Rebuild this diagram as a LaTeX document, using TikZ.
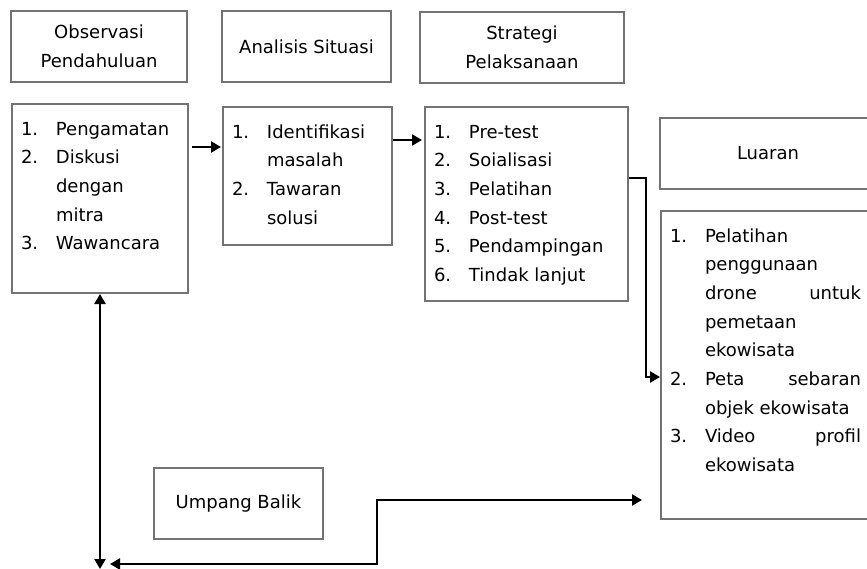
\documentclass[tikz,border=0pt]{standalone}
\usepackage{fontspec}
\setmainfont{DejaVu Sans}
\usetikzlibrary{arrows.meta,calc}

\newcommand{\boxlist}[3]{\parbox[t][#1][t]{#2}{\begin{tabular}[t]{@{}p{35pt}@{}p{\dimexpr#2-35pt\relax}@{}}#3\end{tabular}}}

\begin{document}
\begin{tikzpicture}[x=1pt,y=-1pt,
    font=\fontsize{18}{28.7}\selectfont,
    every node/.style={draw=black!55,line width=2pt,rectangle,inner sep=0pt},
    head/.style={align=center,minimum height=71pt},
    list/.style={anchor=north west,inner xsep=9pt,inner ysep=11pt},
    arr/.style={-{Triangle[length=10pt,width=11pt]},line width=2.4pt},
    arrboth/.style={{Triangle[length=10pt,width=11pt]}-{Triangle[length=10pt,width=11pt]},line width=2.4pt}]

    \useasboundingbox (0,0) rectangle (867,569);

    % Headers
    \node[head,minimum width=176pt] (obshead) at (99,46.5) {Observasi\\Pendahuluan};
    \node[head,minimum width=169pt] (anhead) at (306.5,46.5) {Analisis Situasi};
    \node[head,minimum width=204pt] (sthead) at (522,47.5) {Strategi\\Pelaksanaan};
    \node[head,minimum width=216pt] (luhead) at (768,153.5) {Luaran};
    \node[head,minimum width=169pt] (umpan) at (238.5,503.5) {Umpang Balik};

    % Lists
    \node[list] (obslist) at (11,103) {\boxlist{167pt}{158pt}{%
        1. & Pengamatan\\
        2. & Diskusi\\
           & dengan\\
           & mitra\\
        3. & Wawancara}};
    \node[list] (anlist) at (222,106) {\boxlist{116pt}{151pt}{%
        1. & Identifikasi\\
           & masalah\\
        2. & Tawaran\\
           & solusi}};
    \node[list] (stlist) at (424,106) {\boxlist{172pt}{185pt}{%
        1. & Pre-test\\
        2. & Soialisasi\\
        3. & Pelatihan\\
        4. & Post-test\\
        5. & Pendampingan\\
        6. & Tindak lanjut}};
    \node[list] (lulist) at (660,210) {\boxlist{286pt}{191pt}{%
        1. & Pelatihan\\
           & penggunaan\\
           & drone\hfill untuk\\
           & pemetaan\\
           & ekowisata\\
        2. & Peta\hfill sebaran\\
           & objek ekowisata\\
        3. & Video\hfill profil\\
           & ekowisata}};

    \coordinate (fbtop) at ($(obslist.south)+(0,275)$);
    \coordinate (fbleft) at ($(fbtop)+(10,-5)$);

    % Edges
    \draw[arr] ($(obslist.north east)+(3,44)$) -- ($(anlist.north west)+(-1,41)$);
    \draw[arr] ($(anlist.north east)+(0,34)$) -- ($(stlist.north west)+(-2,34)$);
    \draw[arr] ($(stlist.north east)+(0,72)$) -- ++(17,0) |- ($(lulist.north west)+(0,167)$);
    \draw[arrboth] (obslist.south) -- (fbtop);
    \draw[arrboth] (fbleft) -- ++(267,0) |- ($(lulist.north west)+(-18,290)$);

\end{tikzpicture}
\end{document}
